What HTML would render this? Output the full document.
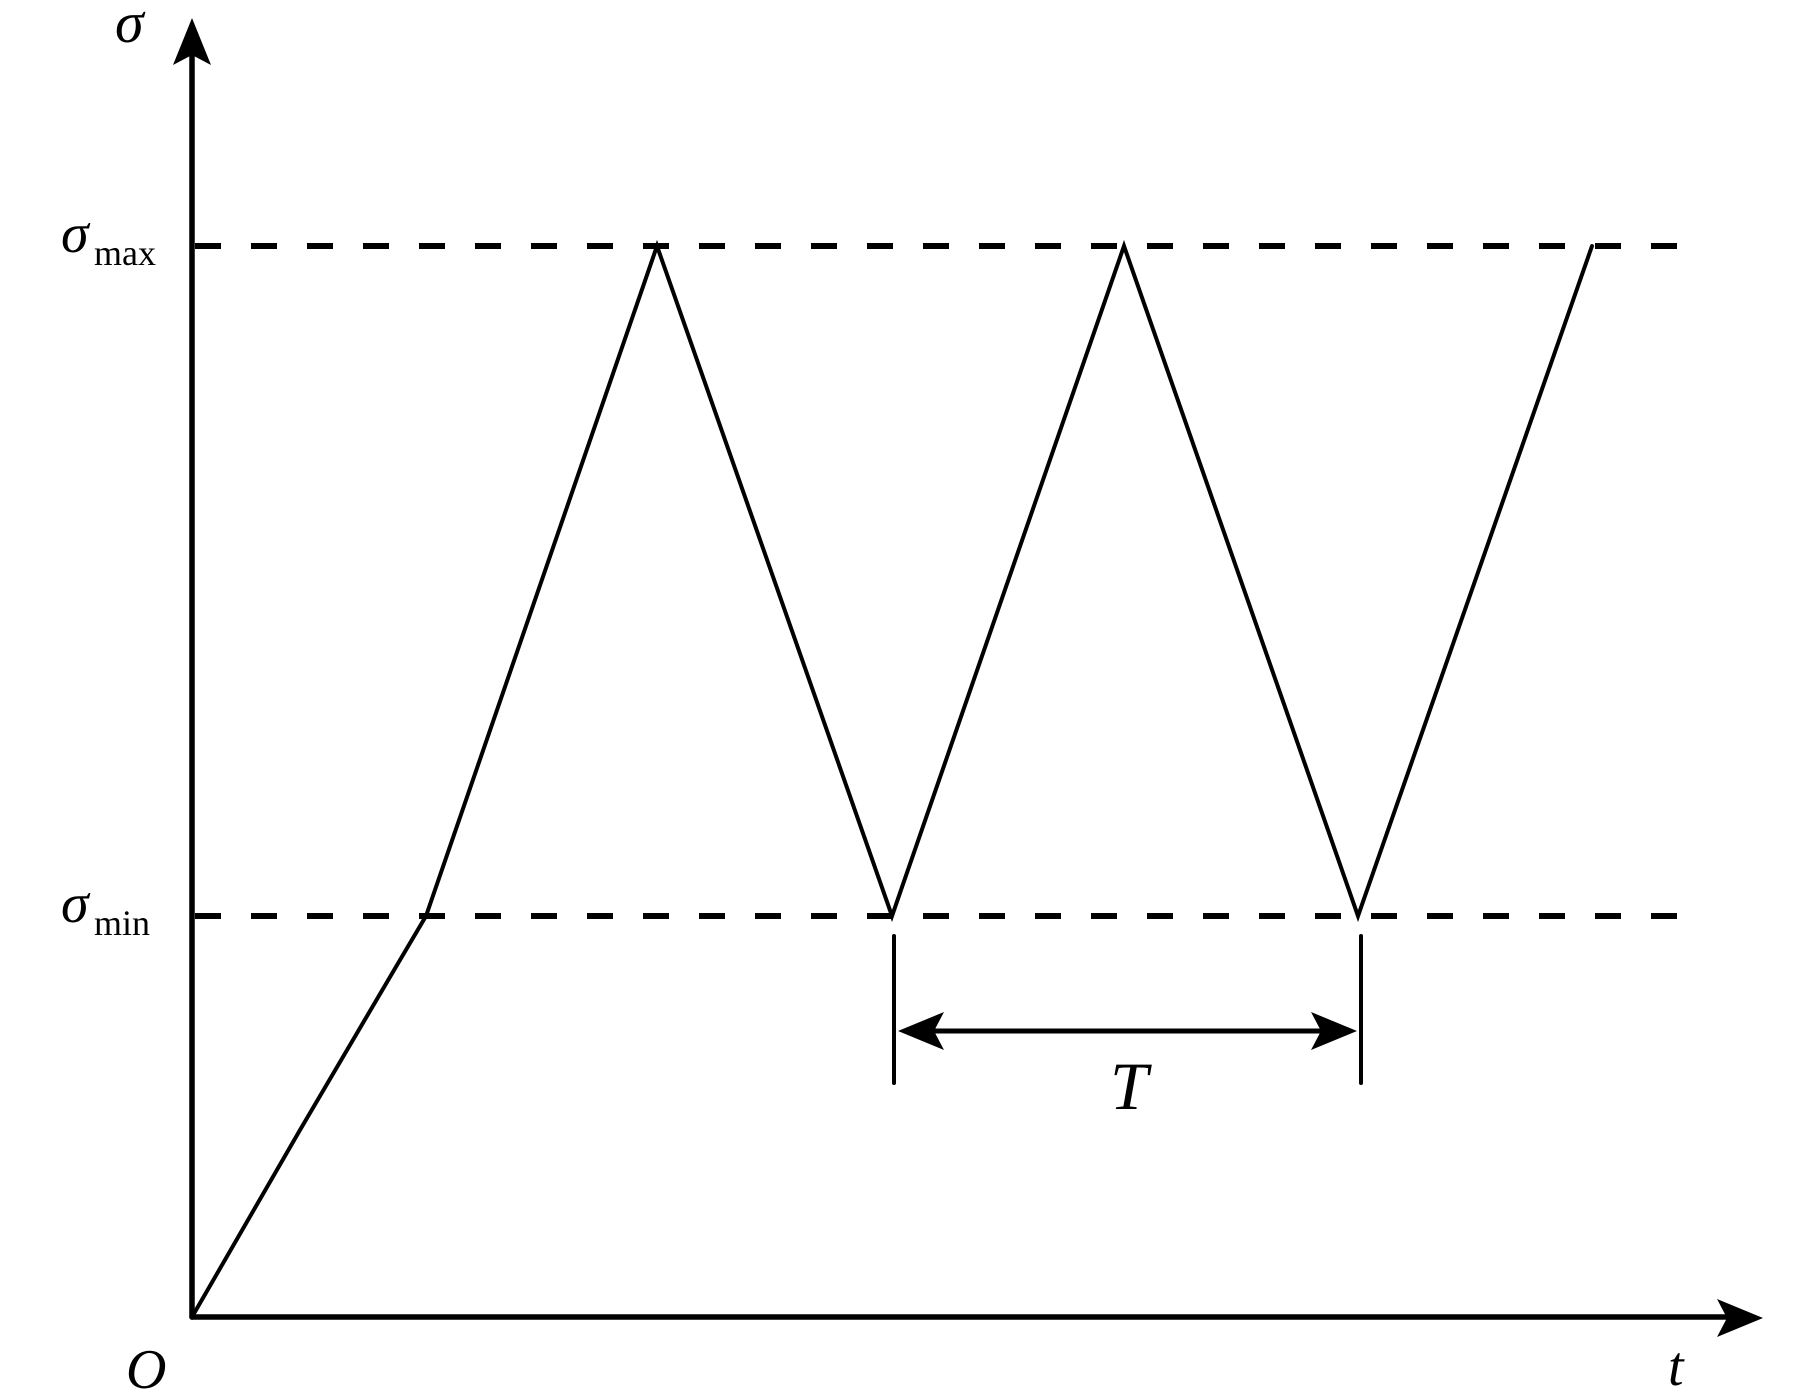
<!DOCTYPE html>
<html><head><style>html,body{margin:0;padding:0;background:#fff}svg{display:block}</style></head>
<body>
<svg width="1795" height="1399" viewBox="0 0 1795 1399" xmlns="http://www.w3.org/2000/svg">
<g stroke="#000" fill="none" stroke-linecap="round">
<line x1="192" y1="1317" x2="192" y2="40" stroke-width="5.5"/>
<line x1="192" y1="1317" x2="1740" y2="1317" stroke-width="5.5"/>
<line x1="195" y1="246" x2="1691" y2="246" stroke-width="6" stroke-dasharray="26 30" stroke-linecap="butt"/>
<line x1="195" y1="916" x2="1691" y2="916" stroke-width="6" stroke-dasharray="26 30" stroke-linecap="butt"/>
<polyline points="192,1317 300,1130 400,960 426,916 657,246 892,916 1124,246 1358,916 1592,246" stroke-width="4" stroke-linejoin="miter"/>
<line x1="894" y1="936" x2="894" y2="1083" stroke-width="4"/>
<line x1="1361" y1="936" x2="1361" y2="1083" stroke-width="4"/>
<line x1="910" y1="1031" x2="1346" y2="1031" stroke-width="5"/>
</g>
<g fill="#000">
<polygon points="192,18 173,65 192,55 211,65"/>
<polygon points="1763,1318 1717,1299 1727,1318 1717,1337"/>
<polygon points="898,1031 944,1012 934,1031 944,1050"/>
<polygon points="1357,1031 1311,1012 1321,1031 1311,1050"/>
</g>
<g font-family="Liberation Serif, serif" fill="#000">
<text x="115" y="42" font-size="58" font-style="italic">σ</text>
<text x="61" y="252" font-size="56" font-style="italic">σ</text>
<text x="94" y="265" font-size="36">max</text>
<text x="61" y="922" font-size="56" font-style="italic">σ</text>
<text x="94" y="935" font-size="36">min</text>
<text x="126" y="1388" font-size="56" font-style="italic">O</text>
<text x="1668" y="1385" font-size="56" font-style="italic">t</text>
<text x="1110" y="1109" font-size="68" font-style="italic">T</text>
</g>
</svg>
</body></html>
